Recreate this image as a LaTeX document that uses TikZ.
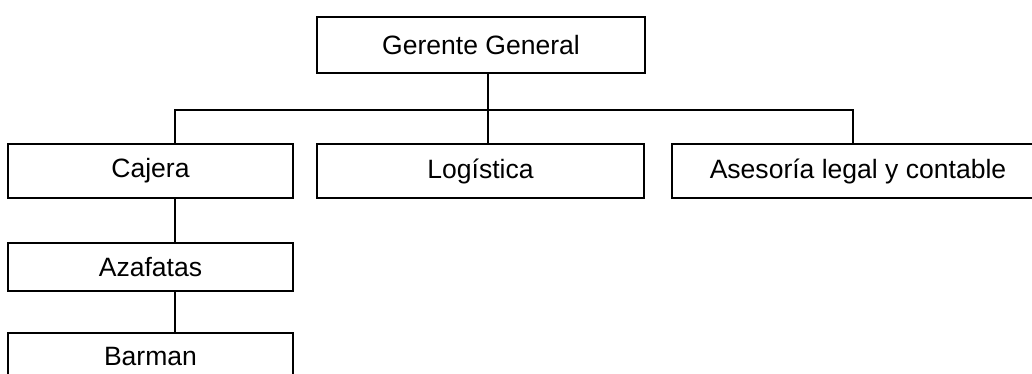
\documentclass[tikz,border=0pt]{standalone}
\usepackage{fontspec}
\setmainfont{Liberation Sans}
\begin{document}
\begin{tikzpicture}[x=0.75pt,y=-0.75pt,
  box/.style={draw,line width=1.7pt,rectangle,inner sep=0pt,outer sep=0pt,
    font=\fontsize{19.9pt}{24pt}\selectfont},
  conn/.style={line width=1.7pt}]
\useasboundingbox (0,0) rectangle (1032,374);
\clip (0,0) rectangle (1032,374);
\node[box,minimum width=246pt,minimum height=42pt] (gg) at (481,45) {Gerente General};
\node[box,minimum width=213.75pt,minimum height=40.5pt] (caj) at (150.5,171) {Cajera};
\node[box,minimum width=245.25pt,minimum height=40.5pt] (log) at (480.5,171) {Logística};
\node[box,minimum width=279pt,minimum height=40.5pt] (ase) at (858,171) {Asesoría legal y contable};
\node[box,minimum width=213.75pt,minimum height=36pt] (aza) at (150.5,267) {Azafatas};
\node[box,minimum width=213.75pt,minimum height=36pt] (bar) at (150.5,357) {Barman};
\coordinate (t) at (488,110);
\coordinate (bl) at (175,110);
\coordinate (br) at (853,110);
\draw[conn] (gg.south -| t) -- (t);
\draw[conn] (t) -- (log.north -| t);
\draw[conn] (caj.north -| bl) -- (bl) -- (br) -- (ase.north -| br);
\draw[conn] (caj.south -| bl) -- (aza.north -| bl);
\draw[conn] (aza.south -| bl) -- (bar.north -| bl);
\end{tikzpicture}
\end{document}
